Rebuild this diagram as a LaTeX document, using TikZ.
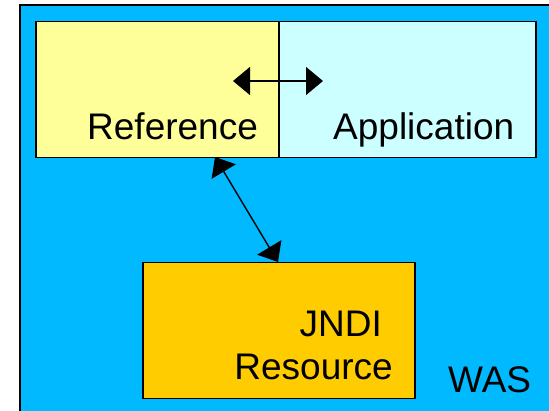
\documentclass[tikz,border=0pt]{standalone}
\usepackage{fontspec}
\setmainfont{Liberation Sans}
\usetikzlibrary{arrows.meta}
\definecolor{wasblue}{RGB}{0,185,255}
\definecolor{refyellow}{RGB}{255,255,153}
\definecolor{appcyan}{RGB}{204,255,255}
\definecolor{jndigold}{RGB}{255,204,0}
\tikzset{
  box/.style={draw=black, line width=1.5pt},
  lbl/.style={inner sep=0pt, font=\fontsize{37}{40}\selectfont},
  tip/.style={Triangle[length=17pt,width=28pt]},
  link/.style={line width=1.4pt, {Triangle[length=17pt,width=28pt]}-{Triangle[length=17pt,width=28pt]}}
}
\begin{document}
\begin{tikzpicture}[x=1pt,y=-1pt]
  \useasboundingbox (0,0) rectangle (549,411);
  % application server container
  \path[fill=white] (0,0) rectangle (549,411);
  \draw[draw=gray!60, line width=0.8pt] (19,4) rectangle (560,420);
  \draw[box, line width=2pt, fill=wasblue] (20,5.5) rectangle (560,420);
  % reference / application pair
  \node[box, fill=refyellow, minimum width=243pt, minimum height=136pt, anchor=north west, inner sep=0pt] (ref) at (35,21) {};
  \node[box, fill=appcyan, minimum width=257pt, minimum height=136pt, anchor=north west, inner sep=0pt] (app) at (278,21) {};
  % JNDI resource
  \node[box, fill=jndigold, minimum width=272pt, minimum height=136pt, anchor=north west, inner sep=0pt] (jndi) at (142,262) {};
  % labels
  \node[lbl, anchor=base west] (reftxt) at (87,140) {Reference};
  \node[lbl, anchor=base west] (apptxt) at (333,140) {Application};
  \node[lbl, anchor=base east] (jndit1) at (382,337) {JNDI};
  \node[lbl, anchor=base east] (jndit2) at (393,380) {Resource};
  \node[lbl, anchor=base west] (wastxt) at (448,393) {WAS};
  % connectors
  \coordinate (hl) at (233,81);
  \coordinate (hr) at (323,81);
  \draw[link] (hl) -- (hr);
  \coordinate (refport) at (215,157);
  \coordinate (jndiport) at (278,262);
  \draw[link] (refport) -- (jndiport);
\end{tikzpicture}
\end{document}
